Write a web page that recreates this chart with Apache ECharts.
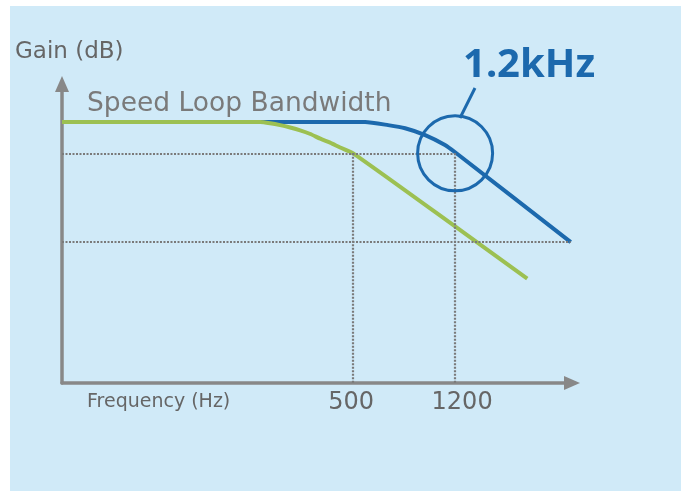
<!DOCTYPE html>
<html><head><meta charset="utf-8">
<script src="https://cdn.jsdelivr.net/npm/echarts@6/dist/echarts.min.js"></script>
<style>html,body{margin:0;padding:0;background:#fff}#c{width:686px;height:491px}</style>
</head><body><div id="c"></div>
<script>
// Frequency (Hz) / gain (dB) read from the schematic
const blueFreq  = [41, 554, 675, 781, 928, 1100, 1200, 3240];
const blueGain  = [0, 0, -0.3, -0.6, -1.25, -2.2, -2.9, -11.5];
const greenFreq = [41, 225, 245, 267, 291, 317, 346, 377, 410, 447, 500, 1200, 2230];
const greenGain = [0, 0, -0.12, -0.3, -0.53, -0.8, -1.15, -1.6, -1.97, -2.44, -3, -10, -15];
const freqTicks = [500, 1200];
const tickLabels = ['500', '1200'];
const bandwidthGain = -3;
const lowerGuideGain = -11.5;
const lowerGuideEnd = 3240;
const freqMin = 41, freqMax = 3275;
const gainMin = -25, gainMax = 3.64;

const BLUE = '#1c69ad', GREEN = '#9cc052', GREY = '#888888';
const chart = echarts.init(document.getElementById('c'));

const guideStyle = {color: '#7a7a7a', width: 2.2, type: [2, 1.5]};
const guides = [
  [{coord: [freqMin, bandwidthGain]}, {coord: [freqTicks[1], bandwidthGain]}],
  [{coord: [freqMin, lowerGuideGain]}, {coord: [lowerGuideEnd, lowerGuideGain]}]
];
freqTicks.forEach((f, i) => {
  guides.push([
    {coord: [f, bandwidthGain],
     label: {show: true, position: 'end', formatter: tickLabels[i], distance: 8,
             offset: [i === 1 ? 7 : -2, 0],
             fontFamily: 'DejaVu Sans', fontSize: 24, color: '#666'}},
    {coord: [f, gainMin]}
  ]);
});

chart.setOption({
  animation: false,
  backgroundColor: '#ffffff',
  grid: {left: 62, right: 114, top: 84, bottom: 108, containLabel: false, outerBoundsMode: 'none'},
  xAxis: {
    type: 'log', logBase: 10, min: freqMin, max: freqMax,
    axisLine: {show: true, onZero: false, symbol: ['none', 'triangle'], symbolSize: [14, 16],
               lineStyle: {color: GREY, width: 3.5}},
    axisTick: {show: false}, axisLabel: {show: false}, splitLine: {show: false}
  },
  yAxis: {
    type: 'value', min: gainMin, max: gainMax,
    axisLine: {show: true, onZero: false, symbol: ['none', 'triangle'], symbolSize: [14, 16],
               lineStyle: {color: GREY, width: 3.5}},
    axisTick: {show: false}, axisLabel: {show: false}, splitLine: {show: false}
  },
  graphic: [
    {type: 'rect', z: -100, silent: true, shape: {x: 10, y: 6, width: 671, height: 485},
     style: {fill: '#d0eaf8'}},
    {type: 'text', x: 15, y: 52, silent: true,
     style: {text: 'Gain (dB)', font: '23px "DejaVu Sans"', fill: '#666', textVerticalAlign: 'middle', verticalAlign: 'middle'}},
    {type: 'text', x: 87, y: 104, silent: true,
     style: {text: 'Speed Loop Bandwidth', font: '26.5px "DejaVu Sans"', fill: '#7a7a7a', textVerticalAlign: 'middle', verticalAlign: 'middle'}},
    {type: 'text', x: 87, y: 402, silent: true,
     style: {text: 'Frequency (Hz)', font: '19px "DejaVu Sans"', fill: '#666', textVerticalAlign: 'middle', verticalAlign: 'middle'}},
    {type: 'text', x: 463, y: 66, silent: true,
     style: {text: '1.2kHz', font: 'bold 40px "Noto Sans"', fill: BLUE, textVerticalAlign: 'middle', verticalAlign: 'middle'}},
    {type: 'line', silent: true, shape: {x1: 475, y1: 88, x2: 460, y2: 118},
     style: {stroke: BLUE, lineWidth: 3}}
  ],
  series: [
    {type: 'line', name: 'guides', data: [], silent: true,
     markLine: {silent: true, symbol: ['none', 'none'], label: {show: false},
                lineStyle: guideStyle, emphasis: {disabled: true}, data: guides}},
    {type: 'line', name: 'Speed loop 1.2kHz', showSymbol: false, smooth: 0.2,
     lineStyle: {color: BLUE, width: 4}, itemStyle: {color: BLUE},
     data: blueFreq.map((f, i) => [f, blueGain[i]]),
     markPoint: {silent: true, data: [{coord: [freqTicks[1], bandwidthGain], symbol: 'circle', symbolSize: 75,
        itemStyle: {color: 'rgba(0,0,0,0)', borderColor: BLUE, borderWidth: 3}, label: {show: false}}]}},
    {type: 'line', name: 'Speed loop 500Hz', showSymbol: false, smooth: 0.2,
     lineStyle: {color: GREEN, width: 4}, itemStyle: {color: GREEN},
     data: greenFreq.map((f, i) => [f, greenGain[i]])}
  ]
});
</script></body></html>
